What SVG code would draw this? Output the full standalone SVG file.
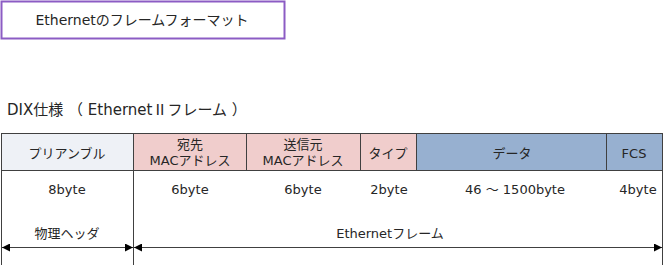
<svg xmlns="http://www.w3.org/2000/svg" width="664" height="267" viewBox="0 0 664 267">
<defs>
<style>
text{font-family:"DejaVu Sans","Noto Sans CJK JP",sans-serif;font-size:13px;fill:#262626;}
.c{text-anchor:middle;}
.cjk{font-family:"Noto Sans CJK JP",sans-serif;}
.cell{stroke:#404040;stroke-width:1;}
.ln{stroke:#404040;stroke-width:1;fill:none;}
</style>
<marker id="ah" viewBox="0 0 10 10" refX="10" refY="5" markerWidth="11" markerHeight="8" markerUnits="userSpaceOnUse" orient="auto-start-reverse">
<path d="M0,0 L10,5 L0,10 z" fill="#000"/>
</marker>
</defs>
<g id="title">
<rect x="1.5" y="1.5" width="283" height="37" fill="#fff" stroke="#8c5cc4" stroke-width="2"/>
<text class="c" x="142" y="25" style="font-size:14px">Ethernetのフレームフォーマット</text>
</g>
<g id="heading">
<text x="7" y="115" style="font-size:15px">DIX仕様 （ Ethernet<tspan class="cjk">Ⅱ</tspan>フレーム ）</text>
</g>
<g id="preamble">
<rect class="cell" x="1.5" y="133.5" width="132" height="37" fill="#eef1f6"/>
<text class="c" x="67" y="158">プリアンブル</text>
</g>
<g id="dst">
<rect class="cell" x="133.5" y="133.5" width="113" height="37" fill="#f0cdcc"/>
<text class="c" x="190" y="149">宛先</text>
<text class="c" x="190" y="165">MACアドレス</text>
</g>
<g id="src">
<rect class="cell" x="246.5" y="133.5" width="114" height="37" fill="#f0cdcc"/>
<text class="c" x="303" y="149">送信元</text>
<text class="c" x="303" y="165">MACアドレス</text>
</g>
<g id="type">
<rect class="cell" x="360.5" y="133.5" width="56" height="37" fill="#f0cdcc"/>
<text class="c" x="388" y="158">タイプ</text>
</g>
<g id="data">
<rect class="cell" x="416.5" y="133.5" width="190" height="37" fill="#97b0d0"/>
<text class="c" x="512" y="158">データ</text>
</g>
<g id="fcs">
<rect class="cell" x="606.5" y="133.5" width="56" height="37" fill="#97b0d0"/>
<text class="c" x="634" y="158">FCS</text>
</g>
<g id="sizes">
<text class="c" x="67" y="194">8byte</text>
<text class="c" x="190" y="194">6byte</text>
<text class="c" x="303" y="194">6byte</text>
<text class="c" x="389" y="194">2byte</text>
<text class="c" x="515" y="194">46 ～ 1500byte</text>
<text class="c" x="638" y="194">4byte</text>
</g>
<g id="connectors">
<line class="ln" x1="1.5" y1="170.5" x2="1.5" y2="265"/>
<line class="ln" x1="133.5" y1="170.5" x2="133.5" y2="265"/>
<line class="ln" x1="662.5" y1="170.5" x2="662.5" y2="265"/>
<line class="ln" x1="2" y1="247.5" x2="133" y2="247.5" marker-start="url(#ah)" marker-end="url(#ah)"/>
<line class="ln" x1="134" y1="247.5" x2="662" y2="247.5" marker-start="url(#ah)" marker-end="url(#ah)"/>
</g>
<g id="spans">
<text class="c" x="67" y="238">物理ヘッダ</text>
<text class="c" x="390" y="238">Ethernetフレーム</text>
</g>
</svg>
